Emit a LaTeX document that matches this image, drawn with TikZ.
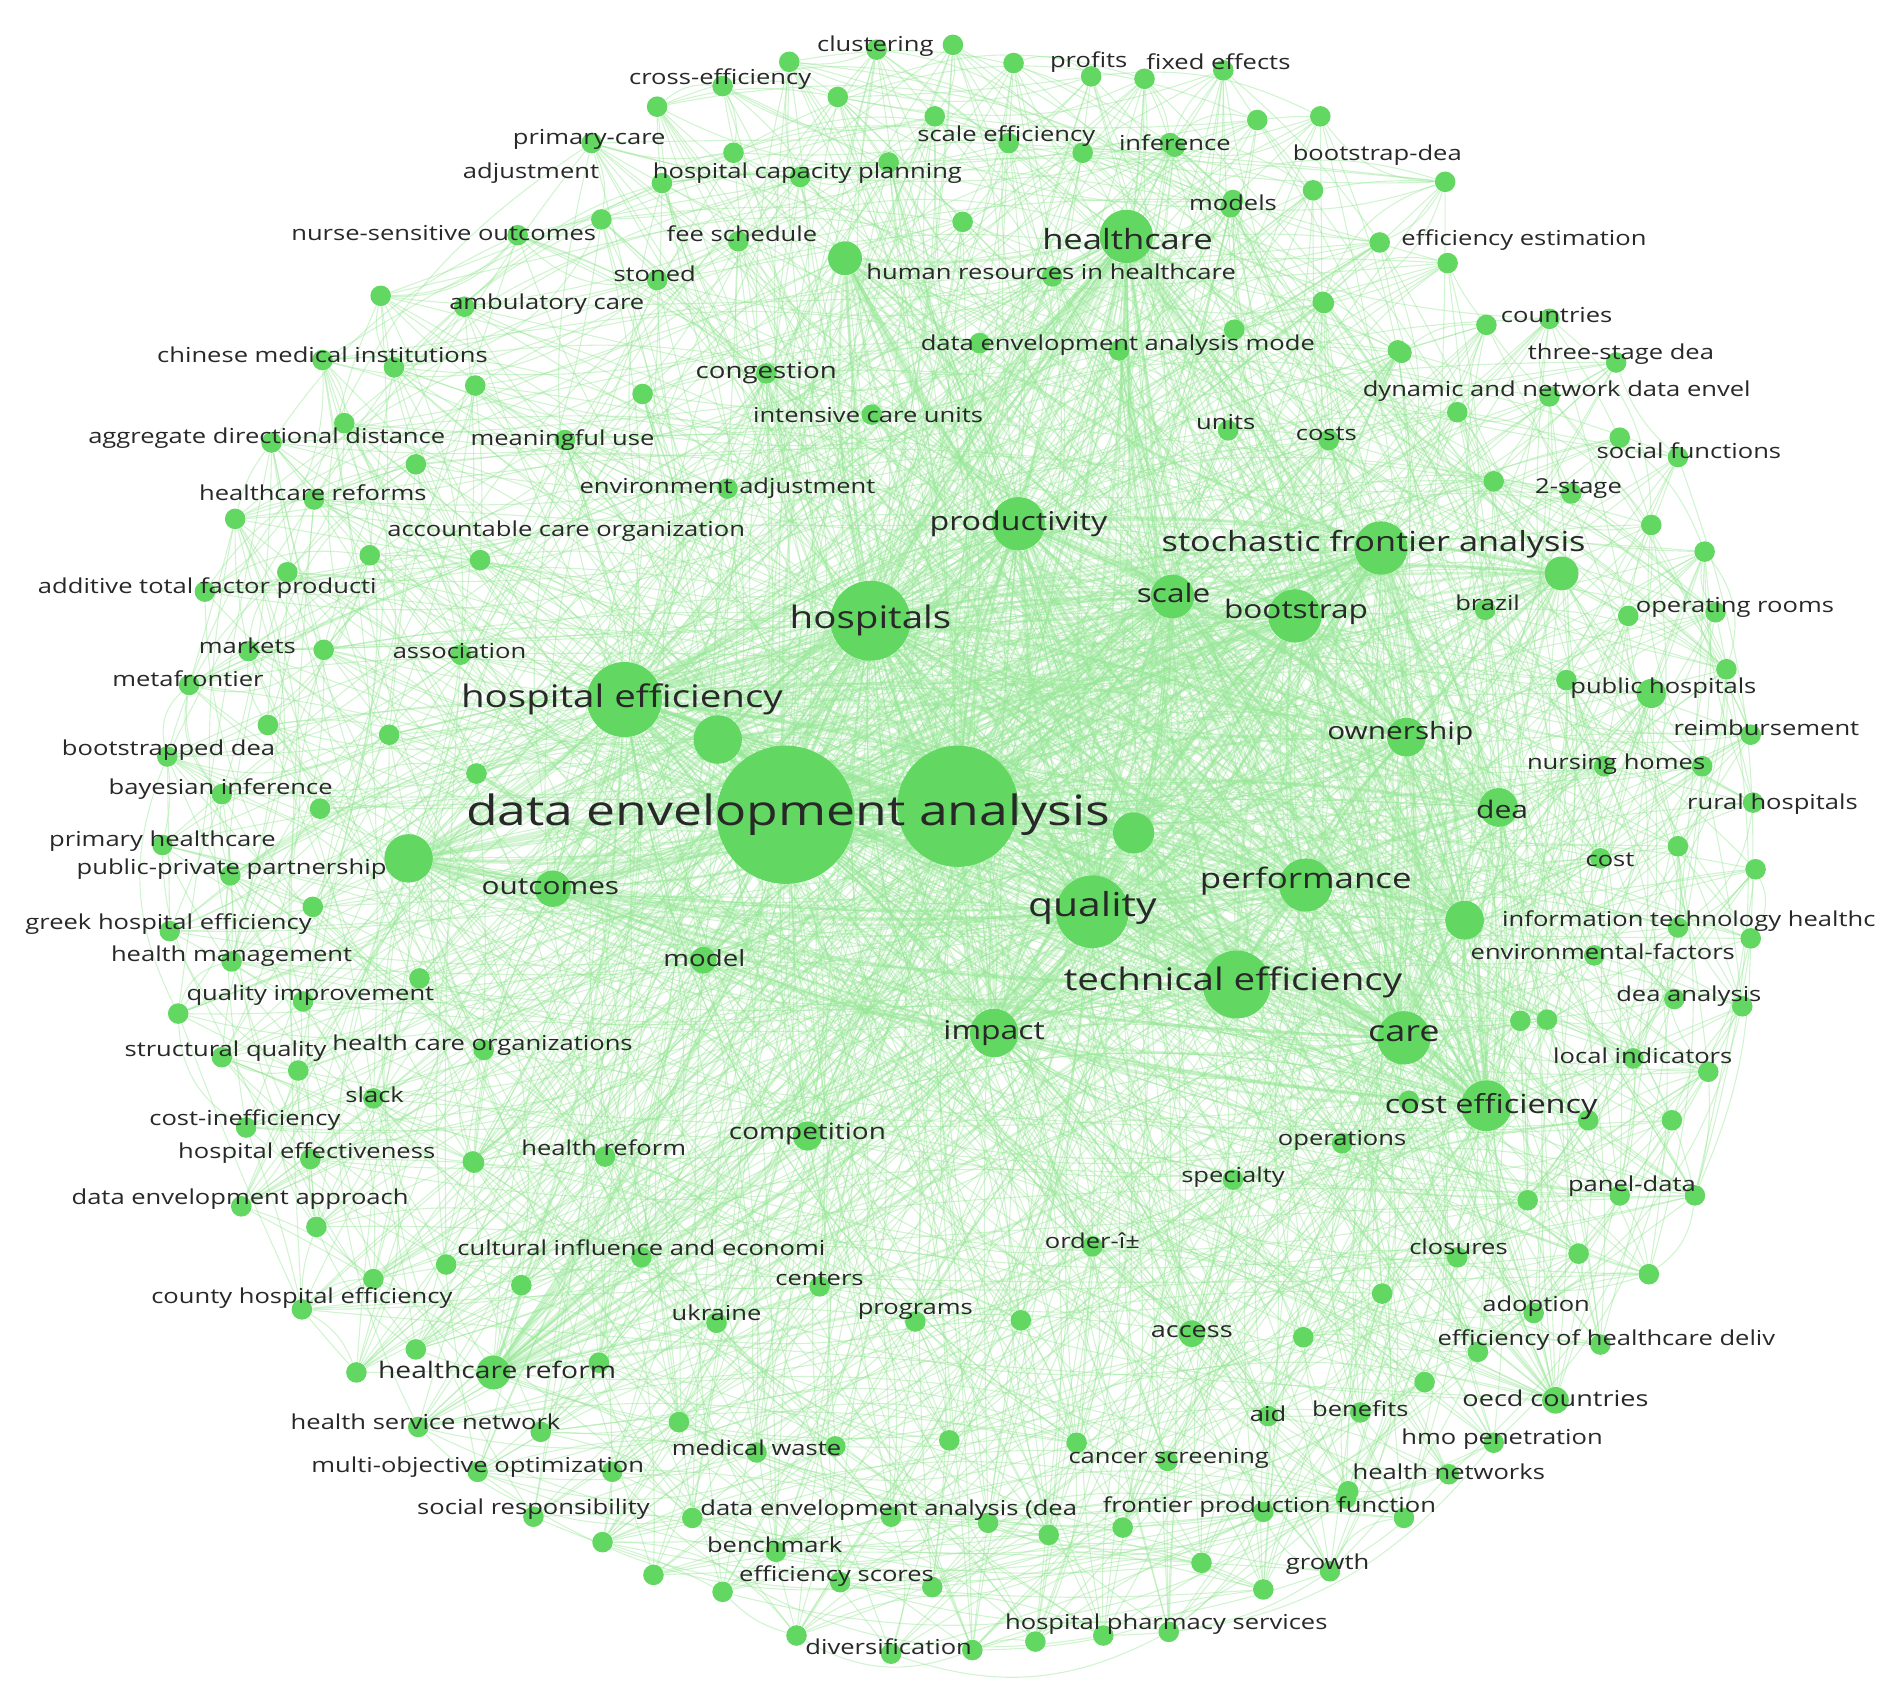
\documentclass[tikz,border=0pt]{standalone}
\usepackage{fontspec}
\setmainfont{Open Sans}[FakeStretch=1.24]
\usetikzlibrary{backgrounds}
\definecolor{nodegreen}{RGB}{98,216,98}
\definecolor{edgegreen}{RGB}{150,230,150}
\definecolor{labelgray}{RGB}{40,40,40}
\begin{document}
\begin{tikzpicture}[x=0.5pt,y=-0.5pt,
  kw/.style={circle,fill=nodegreen,draw=none,inner sep=0pt},
  edge/.style={draw=edgegreen,line width=0.45pt,opacity=0.45},
  hubedge/.style={draw=edgegreen,line width=1.1pt,opacity=0.4},
  lbl/.style={text=labelgray,inner sep=0pt,anchor=center}]
\useasboundingbox (0,0) rectangle (1568,1386);
% ---------------- keyword circles ----------------
\foreach \x/\y/\r [count=\i] in {
 648/672/57, 790/665/50, 718/512/33, 515/577/31, 901/752/30, 1020/812/28,
 1077/730/22, 840/432/22, 1139/452/22, 1068/508/22, 967/492/18, 929/195/22,
 1158/856/22, 1226/912/21, 820/852/20, 592/610/20, 935/687/17, 337/708/20,
 1208/759/16, 1160/608/16, 1236/666/16, 456/733/15, 1288/473/14, 407/1132/14,
 697/213/14, 580/792/11, 1362/572/12, 666/937/12, 983/1100/11, 1283/1155/11,
 651/51/8.5, 723/41/8.5, 786/37/8.5, 836/52/8.5, 900/63/8.5, 944/65/8.5, 1009/58/8.5,
 691/80/8.5, 542/88/8.5, 596/71/8.5, 771/96/8.5, 832/118/8.5, 893/126/8.5, 965/118/8.5,
 1037/99/8.5, 1089/96/8.5, 488/118/8.5, 605/126/8.5, 546/151/8.5, 660/146/8.5, 733/134/8.5,
 1015/171/8.5, 1083/157/8.5, 1192/150/8.5, 496/181/8.5, 609/199/8.5, 794/183/8.5,
 542/231/8.5, 868/228/8.5, 1091/249/8.5, 1138/200/8.5, 1194/217/8.5, 427/194/8.5,
 314/244/8.5, 383/253/8.5, 266/297/8.5, 325/303/8.5, 392/318/8.5, 284/349/8.5, 224/365/8.5,
 343/383/8.5, 259/412/8.5, 194/428/8.5, 305/458/8.5, 396/462/8.5, 237/472/8.5, 169/488/8.5,
 267/536/8.5, 205/537/8.5, 380/540/8.5, 156/565/8.5, 221/598/8.5, 321/606/8.5, 138/624/8.5,
 393/638/8.5, 183/655/8.5, 264/667/8.5, 134/697/8.5, 190/722/8.5, 258/748/8.5, 140/768/8.5,
 191/793/8.5, 346/807/8.5, 147/836/8.5, 250/826/8.5, 183/872/8.5, 246/883/8.5, 399/866/8.5,
 308/906/8.5, 203/930/8.5, 256/956/8.5, 390/958/8.5, 199/995/8.5, 261/1012/8.5, 368/1043/8.5,
 308/1055/8.5, 430/1060/8.5, 249/1080/8.5, 343/1113/8.5, 294/1132/8.5,
 1226/268/8.5, 1278/263/8.5, 1156/291/8.5, 1333/299/8.5, 1202/340/8.5, 1278/327/8.5,
 1336/361/8.5, 1384/377/8.5, 1232/397/8.5, 1296/407/8.5, 1362/433/8.5, 1406/455/8.5,
 1225/503/8.5, 1343/508/8.5, 1415/505/8.5, 1424/552/8.5, 1292/561/8.5, 1444/606/8.5,
 1404/632/8.5, 1323/632/8.5, 1446/662/8.5, 1320/708/8.5, 1384/698/8.5, 1448/717/8.5,
 1384/765/8.5, 1444/774/8.5, 1315/788/8.5, 1276/841/8.5, 1381/824/8.5, 1437/830/8.5,
 1347/873/8.5, 1409/884/8.5, 1310/924/8.5, 1379/924/8.5, 1260/990/8.5, 1336/986/8.5,
 1398/986/8.5, 1202/1037/8.5, 1302/1034/8.5, 1360/1051/8.5, 1265/1083/8.5, 1219/1115/8.5,
 1320/1109/8.5,
 1092/250/8.5, 1018/272/8.5, 923/289/8.5, 1153/289/8.5, 1013/355/8.5, 1096/363/8.5,
 808/283/8.5, 719/342/8.5, 632/308/8.5, 530/325/8.5, 466/363/8.5, 600/403/8.5,
 391/959/8.5, 499/954/8.5, 529/1037/8.5, 676/1061/8.5, 591/1091/8.5, 755/1090/8.5,
 842/1089/8.5, 494/1124/8.5, 560/1173/8.5, 446/1181/8.5, 345/1177/8.5, 624/1198/8.5,
 689/1193/8.5, 783/1188/8.5, 888/1190/8.5, 394/1214/8.5, 505/1214/8.5, 440/1251/8.5,
 571/1252/8.5, 735/1251/8.5, 815/1256/8.5, 865/1266/8.5, 926/1260/8.5, 1042/1247/8.5,
 1110/1236/8.5, 1158/1252/8.5, 497/1272/8.5, 640/1280/8.5, 539/1299/8.5, 596/1313/8.5,
 693/1305/8.5, 769/1309/8.5, 991/1289/8.5, 1042/1311/8.5, 1097/1296/8.5, 657/1349/8.5,
 735/1364/8.5, 802/1361/8.5, 854/1354/8.5, 910/1349/8.5, 964/1346/8.5, 901/1028/8.5,
 1017/973/8.5, 1107/943/8.5, 1140/1067/8.5, 1075/1103/8.5, 1175/1140/8.5, 1046/1168/8.5,
 1122/1165/8.5, 1232/1190/8.5, 1195/1216/8.5, 1112/1230/8.5, 963/1205/8.5, 1162/908/8.5,
 1254/842/8.5, 969/121/8.5, 1017/165/8.5, 1230/916/8.5}
{
  \node[kw,minimum size=\r pt] (c\i) at (\x,\y) {};
  \xdef\ncirc{\i}
}
% ---------------- connectors ----------------
\pgfmathsetseed{12}
\begin{pgfonlayer}{background}
\foreach \i in {1,...,\ncirc} {
  \pgfmathrandominteger{\ha}{1}{4}
  \pgfmathrandominteger{\hb}{1}{12}
  \pgfmathrandominteger{\hc}{1}{30}
  \pgfmathrandominteger{\hd}{1}{20}
  \pgfmathrandominteger{\da}{0}{24}
  \pgfmathrandominteger{\db}{0}{50}
  \pgfmathrandominteger{\dd}{0}{16}
  \pgfmathrandominteger{\dc}{1}{\ncirc}
  \pgfmathrandominteger{\de}{1}{\ncirc}
  \pgfmathtruncatemacro{\ja}{max(1,min(\ncirc,\i+\da-12))}
  \pgfmathtruncatemacro{\jb}{max(1,min(\ncirc,\i+\db-25))}
  \pgfmathtruncatemacro{\jd}{max(1,min(\ncirc,\i+\dd-8))}
  \pgfmathrandominteger{\ba}{0}{60}
  \pgfmathrandominteger{\bb}{0}{60}
  \pgfmathrandominteger{\bc}{0}{60}
  \pgfmathtruncatemacro{\ba}{\ba-30}
  \pgfmathtruncatemacro{\bb}{\bb-30}
  \pgfmathtruncatemacro{\bc}{\bc-30}
  \ifnum\ha=\i\else \draw[edge] (c\i) to[bend left=\ba] (c\ha); \fi
  \ifnum\hb=\i\else \draw[edge] (c\i) to[bend left=\bb] (c\hb); \fi
  \ifnum\hc=\i\else \draw[edge] (c\i) to[bend left=\bc] (c\hc); \fi
  \ifnum\hd=\i\else \draw[edge] (c\i) to[bend right=\bb] (c\hd); \fi
  \ifnum\ja=\i\else \draw[edge] (c\i) to[bend left=\bb] (c\ja); \fi
  \ifnum\jb=\i\else \draw[edge] (c\i) to[bend left=\bc] (c\jb); \fi
  \ifnum\jd=\i\else \draw[edge] (c\i) to[bend right=\ba] (c\jd); \fi
  \ifnum\dc=\i\else \draw[edge] (c\i) to[bend left=\ba] (c\dc); \fi
  \ifnum\de=\i\else \draw[edge] (c\i) to[bend right=\bc] (c\de); \fi
}
\foreach \a in {1,...,15} {
  \foreach \b in {1,...,25} {
    \ifnum\a<\b \draw[hubedge] (c\a) to[bend left=8] (c\b); \fi
  }
}
\end{pgfonlayer}
% ---------------- labels ----------------
\foreach \x/\y/\s/\t [count=\i] in {
 722/38/8.5/clustering, 594/65/8.5/cross-efficiency, 898/51/8.5/profits,
 1005/51/8.5/fixed effects, 486/115/8.5/primary-care, 830/112/8.5/scale efficiency,
 969/118/8.5/inference, 1136/128/8.5/bootstrap-dea, 438/143/8.5/adjustment,
 666/143/8.5/hospital capacity planning, 1017/167/8.5/models,
 930/197/11.5/healthcare, 1257/198/8.5/efficiency estimation,
 366/192/8.5/nurse-sensitive outcomes, 612/193/8.5/fee schedule,
 540/226/8.5/stoned, 867/224/8.5/human resources in healthcare,
 451/251/8.5/ambulatory care, 1284/260/8.5/countries,
 266/293/8.5/chinese medical institutions,
 922/285/8.5/data envelopment analysis mode, 1337/292/8.5/three-stage dea,
 632/308/9.2/congestion, 1284/323/8.5/dynamic and network data envel,
 716/342/8.5/intensive care units, 1011/348/8.5/units, 1094/358/8.5/costs,
 220/361/8.5/aggregate directional distance, 464/363/8.5/meaningful use,
 1393/372/8.5/social functions, 600/403/8.5/environment adjustment,
 1302/403/8.5/2-stage, 258/406/8.5/healthcare reforms,
 840/432/10.7/productivity, 467/438/8.5/accountable care organization,
 1133/449/11.4/stochastic frontier analysis,
 171/485/8.5/additive total factor producti, 968/489/10.5/scale,
 1069/505/10.5/bootstrap, 1227/497/8.5/brazil, 1431/501/8.5/operating rooms,
 718/512/12.8/hospitals, 204/533/8.5/markets, 379/537/8.5/association,
 155/560/8.5/metafrontier, 1372/568/8.5/public hospitals,
 513/577/12.8/hospital efficiency, 1155/605/9.9/ownership,
 1457/600/8.5/reimbursement, 139/619/8.5/bootstrapped dea,
 1333/630/8.5/nursing homes, 182/651/8.5/bayesian inference,
 650/672/17.2/data envelopment analysis, 1239/668/10/dea,
 1462/663/8.5/rural hospitals, 134/694/8.5/primary healthcare,
 191/717/8.5/public-private partnership, 454/731/9.9/outcomes,
 1077/727/11.6/performance, 1328/709/8.5/cost, 901/749/13.6/quality,
 139/762/8.5/greek hospital efficiency,
 1393/760/8.5/information technology healthc,
 1322/785/8.5/environmental-factors, 191/789/8.5/health management,
 581/790/9.2/model, 1017/810/12.8/technical efficiency,
 256/821/8.5/quality improvement, 1393/822/8.5/dea analysis,
 820/852/10.6/impact, 1158/853/12/care, 186/867/8.5/structural quality,
 398/862/8.5/health care organizations, 1355/871/8.5/local indicators,
 309/903/8.5/slack, 202/924/8.5/cost-inefficiency,
 1230/913/10.8/cost efficiency, 253/951/8.5/hospital effectiveness,
 498/947/8.5/health reform, 666/935/9.3/competition,
 1107/941/8.5/operations, 1017/971/8.5/specialty,
 198/989/8.5/data envelopment approach, 1346/978/8.5/panel-data,
 529/1029/8.5/cultural influence and economi, 901/1023/8.5/order-î±,
 1203/1028/8.5/closures, 676/1055/8.5/centers,
 249/1071/8.5/county hospital efficiency, 1267/1077/8.5/adoption,
 591/1083/8.5/ukraine, 755/1082/8.5/programs, 983/1098/9/access,
 1325/1105/8.5/efficiency of healthcare deliv,
 410/1130/9.4/healthcare reform, 1283/1153/9/oecd countries,
 1046/1166/8.5/aid, 1122/1162/8.5/benefits,
 351/1173/8.5/health service network, 1239/1187/8.5/hmo penetration,
 624/1194/8.5/medical waste, 964/1203/8.5/cancer screening,
 394/1210/8.5/multi-objective optimization, 1195/1214/8.5/health networks,
 440/1245/8.5/social responsibility,
 733/1246/8.5/data envelopment analysis (dea,
 1047/1243/8.5/frontier production function, 639/1274/8.5/benchmark,
 1095/1290/8.5/growth, 690/1300/8.5/efficiency scores,
 962/1340/8.5/hospital pharmacy services, 733/1358/8.5/diversification}
{
  \node[lbl,font=\fontsize{\s}{\s}\selectfont] (l\i) at (\x,\y) {\t};
}
\end{tikzpicture}
\end{document}
